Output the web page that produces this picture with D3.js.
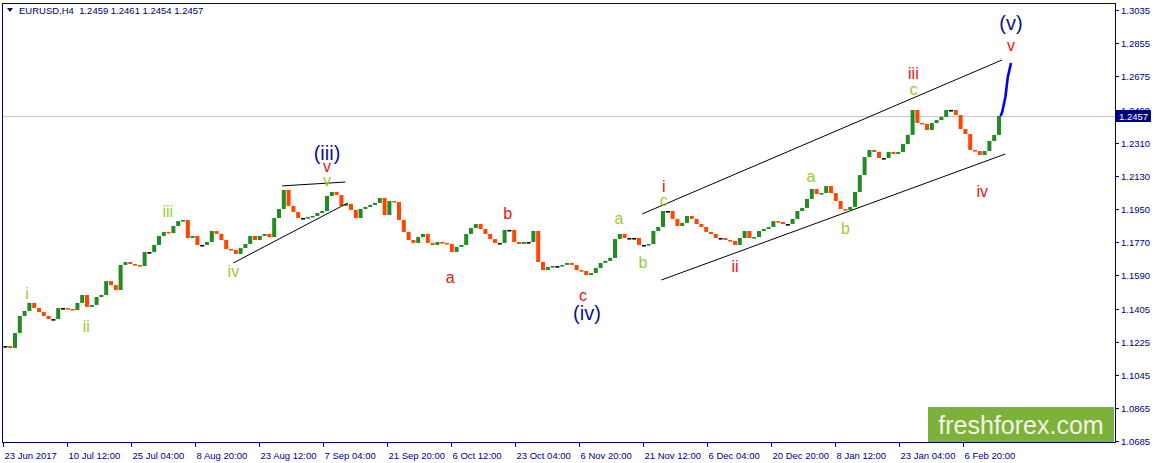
<!DOCTYPE html>
<html><head><meta charset="utf-8">
<script src="https://cdn.jsdelivr.net/npm/d3@7"></script>
<style>html,body{margin:0;padding:0;background:#fff;overflow:hidden}svg{display:block}</style>
</head><body><svg id="c" width="1155" height="463"></svg>
<script>
// ---- DATA ----
const symbol = "EURUSD,H4";
const ohlcHeader = ["1.2459", "1.2461", "1.2454", "1.2457"];
const lastPrice = 1.2457;
// daily closes, one sample every 6 H4 bars
const closes = [
1.1203,1.1192,1.1274,1.1367,1.1394,1.1438,1.1410,1.1388,1.1367,1.1350,
1.1350,1.1410,1.1410,1.1405,1.1399,1.1438,1.1481,1.1416,1.1427,1.1470,
1.1481,1.1557,1.1535,1.1508,1.1645,1.1661,1.1650,1.1645,1.1639,1.1715,
1.1715,1.1754,1.1803,1.1825,1.1819,1.1857,1.1884,1.1890,1.1792,1.1803,
1.1754,1.1754,1.1770,1.1830,1.1814,1.1781,1.1732,1.1727,1.1705,1.1737,
1.1759,1.1803,1.1781,1.1803,1.1814,1.1797,1.1901,1.1950,1.2054,1.1967,
1.1934,1.1901,1.1901,1.1906,1.1912,1.1928,1.1939,1.2021,1.2043,1.2026,
1.1967,1.1978,1.1945,1.1901,1.1950,1.1961,1.1972,1.1983,1.2010,1.1917,
1.1994,1.1988,1.1890,1.1825,1.1781,1.1765,1.1797,1.1814,1.1765,1.1754,
1.1770,1.1765,1.1759,1.1716,1.1743,1.1754,1.1814,1.1846,1.1868,1.1841,
1.1814,1.1786,1.1765,1.1765,1.1836,1.1836,1.1770,1.1759,1.1770,1.1770,
1.1830,1.1661,1.1617,1.1634,1.1639,1.1639,1.1645,1.1656,1.1645,1.1617,
1.1612,1.1590,1.1601,1.1628,1.1656,1.1667,1.1683,1.1786,1.1814,1.1792,
1.1792,1.1792,1.1754,1.1754,1.1759,1.1830,1.1852,1.1939,1.1939,1.1896,
1.1857,1.1874,1.1912,1.1896,1.1868,1.1852,1.1825,1.1814,1.1792,1.1792,
1.1781,1.1776,1.1754,1.1792,1.1830,1.1792,1.1797,1.1830,1.1841,1.1852,
1.1884,1.1879,1.1868,1.1868,1.1896,1.1939,1.1956,1.2005,1.2059,1.2032,
1.2037,1.2075,1.2037,1.1994,1.1950,1.1945,1.1961,1.2043,1.2135,1.2233,
1.2272,1.2261,1.2228,1.2228,1.2261,1.2250,1.2261,1.2304,1.2354,1.2490,
1.2419,1.2414,1.2381,1.2419,1.2435,1.2452,1.2490,1.2490,1.2462,1.2386,
1.2359,1.2272,1.2266,1.2244,1.2266,1.2321,1.2354,1.2457
];
const barsPerSample = 6;
const sampleOffset = 3;
const xTickLabels = ["23 Jun 2017","10 Jul 12:00","25 Jul 04:00","8 Aug 20:00","23 Aug 12:00","7 Sep 04:00","21 Sep 20:00","6 Oct 12:00","23 Oct 04:00","6 Nov 20:00","21 Nov 12:00","6 Dec 04:00","20 Dec 20:00","8 Jan 12:00","23 Jan 04:00","6 Feb 20:00"];
const barsPerXTick = 80;
const yTickLabels = ["1.3035","1.2855","1.2675","1.2490","1.2310","1.2130","1.1950","1.1770","1.1590","1.1405","1.1225","1.1045","1.0865","1.0685"];
// Elliott wave labels
const waveText  = ["i","ii","iii","iv","v","v","(iii)","a","b","c","(iv)","a","b","c","i","ii","a","b","c","iii","iv","v","(v)"];
const waveBar   = [30,104,206,288,405,405,405,559,631,725,730,770,800,826,826,915,1010,1053,1138,1138,1224,1260,1260];
const wavePrice = [1.1487,1.1307,1.1934,1.1607,1.2108,1.2182,1.2255,1.1579,1.1923,1.1476,1.1383,1.1896,1.1656,1.1994,1.2075,1.1634,1.2125,1.1841,1.2600,1.2690,1.2048,1.2844,1.2965];
const waveDegree = ["minute","minute","minute","minute","minute","minor","major","minor","minor","minor","major","minute","minute","minute","minor","minor","minute","minute","minute","minor","minor","minor","major"];
// trend lines [bar1, price1, bar2, price2]
const trendLines = [
  [349,1.2076,428,1.2097],
  [288,1.1656,431,1.1983],
  [799,1.1923,1249,1.2763],
  [823,1.1563,1253,1.2250]
];
// projected wave (v)
const projBar   = [1247,1249,1253,1256,1260];
const projPrice = [1.2457,1.2479,1.2561,1.2670,1.2746];
const watermark = "freshforex.com";

// ---- DRAW ----
const svg = d3.select("#c");
const L = 3, R = 1115, T = 4, B = 442;
const x = d3.scaleLinear().domain([0, 1390]).range([L, R]);
const y = d3.scaleLinear().domain([1.0685, 1.3035]).range([441, 10]);
const axisColor = "#000080";
const font = "'Liberation Sans', Arial, sans-serif";

svg.append("defs").append("clipPath").attr("id","plot")
  .append("rect").attr("x",L).attr("y",T).attr("width",R-L).attr("height",B-T);

// last price line
svg.append("line").attr("x1",L).attr("x2",R).attr("y1",Math.round(y(lastPrice))+0.5).attr("y2",Math.round(y(lastPrice))+0.5)
  .attr("stroke","#c8c8c8").attr("stroke-width",1);

const g = svg.append("g").attr("clip-path","url(#plot)");

// candles (open = previous close)
const candles = closes.map((c,i)=>({bar: i*barsPerSample+sampleOffset, o: i? closes[i-1] : c, c}));
g.selectAll("rect.cd").data(candles).join("rect").attr("class","cd")
  .attr("x", d=>x(d.bar)-2)
  .attr("width", 4)
  .attr("y", d=>y(Math.max(d.o,d.c)))
  .attr("height", d=>Math.max(1.6, Math.abs(y(d.o)-y(d.c))))
  .attr("fill", d=> d.c>d.o ? "#228b22" : (d.c<d.o ? "#ff4500" : "#000"));

// trend lines
g.selectAll("line.tl").data(trendLines).join("line").attr("class","tl")
  .attr("x1",d=>x(d[0])).attr("y1",d=>y(d[1])).attr("x2",d=>x(d[2])).attr("y2",d=>y(d[3]))
  .attr("stroke","#000").attr("stroke-width",1);

// projection
g.append("path").datum(projBar.map((b,i)=>[b,projPrice[i]]))
  .attr("d", d3.line().x(d=>x(d[0])).y(d=>y(d[1])))
  .attr("fill","none").attr("stroke","#0000ff").attr("stroke-width",2.6);

// wave labels
const degStyle = {
  minute: {fill:"#9acd32", size:16},
  minor:  {fill:"#ee1111", size:16},
  major:  {fill:"#101090", size:20}
};
g.selectAll("text.wl").data(waveText.map((t,i)=>({t, b:waveBar[i], p:wavePrice[i], d:waveDegree[i]})))
  .join("text").attr("class","wl")
  .attr("x", d=>x(d.b)).attr("y", d=>y(d.p))
  .attr("text-anchor","middle").attr("dominant-baseline","central")
  .attr("font-family", font).attr("font-size", d=>degStyle[d.d].size)
  .attr("fill", d=>degStyle[d.d].fill)
  .text(d=>d.t);

// frame
svg.append("rect").attr("x",L-0.5).attr("y",T-0.5).attr("width",R-L+1).attr("height",B-T+1)
  .attr("fill","none").attr("stroke",axisColor).attr("stroke-width",1);

// y axis
const yAxis = svg.append("g");
yTickLabels.forEach(t=>{
  const yy = Math.round(y(+t))+0.5;
  yAxis.append("line").attr("x1",R+0.5).attr("x2",R+4).attr("y1",yy).attr("y2",yy).attr("stroke",axisColor);
  yAxis.append("text").attr("x",R+6).attr("y",yy).attr("dominant-baseline","central")
    .attr("font-family",font).attr("font-size",9.5).attr("fill",axisColor).text(t);
});
// x axis
const xAxis = svg.append("g");
xTickLabels.forEach((t,k)=>{
  const xx = Math.round(x(k*barsPerXTick))+0.5;
  xAxis.append("line").attr("x1",xx).attr("x2",xx).attr("y1",B+0.5).attr("y2",B+5).attr("stroke",axisColor);
  xAxis.append("text").attr("x",xx+1).attr("y",455).attr("dominant-baseline","central")
    .attr("font-family",font).attr("font-size",9.5).attr("fill",axisColor).text(t);
});

// last price tag
const ly = y(lastPrice);
svg.append("rect").attr("x",R+1).attr("y",ly-6).attr("width",35).attr("height",12).attr("fill","#000080");
svg.append("text").attr("x",R+4).attr("y",ly).attr("dominant-baseline","central")
  .attr("font-family",font).attr("font-size",9.5).attr("fill","#fff").text(lastPrice.toFixed(4));

// header
svg.append("path").attr("d","M7,8 L13,8 L10,12 Z").attr("fill","#000060");
svg.append("text").attr("x",19).attr("y",10.5).attr("dominant-baseline","central")
  .attr("font-family",font).attr("font-size",9.5).attr("fill","#000060")
  .style("white-space","pre")
  .text(symbol + "  " + ohlcHeader.join(" "));

// watermark
svg.append("rect").attr("x",928).attr("y",407).attr("width",186).attr("height",35).attr("fill","#7db23a");
svg.append("text").attr("x",1021).attr("y",425).attr("text-anchor","middle").attr("dominant-baseline","central")
  .attr("font-family",font).attr("font-size",25).attr("fill","#f3f5e6").text(watermark);
</script>
</body></html>
